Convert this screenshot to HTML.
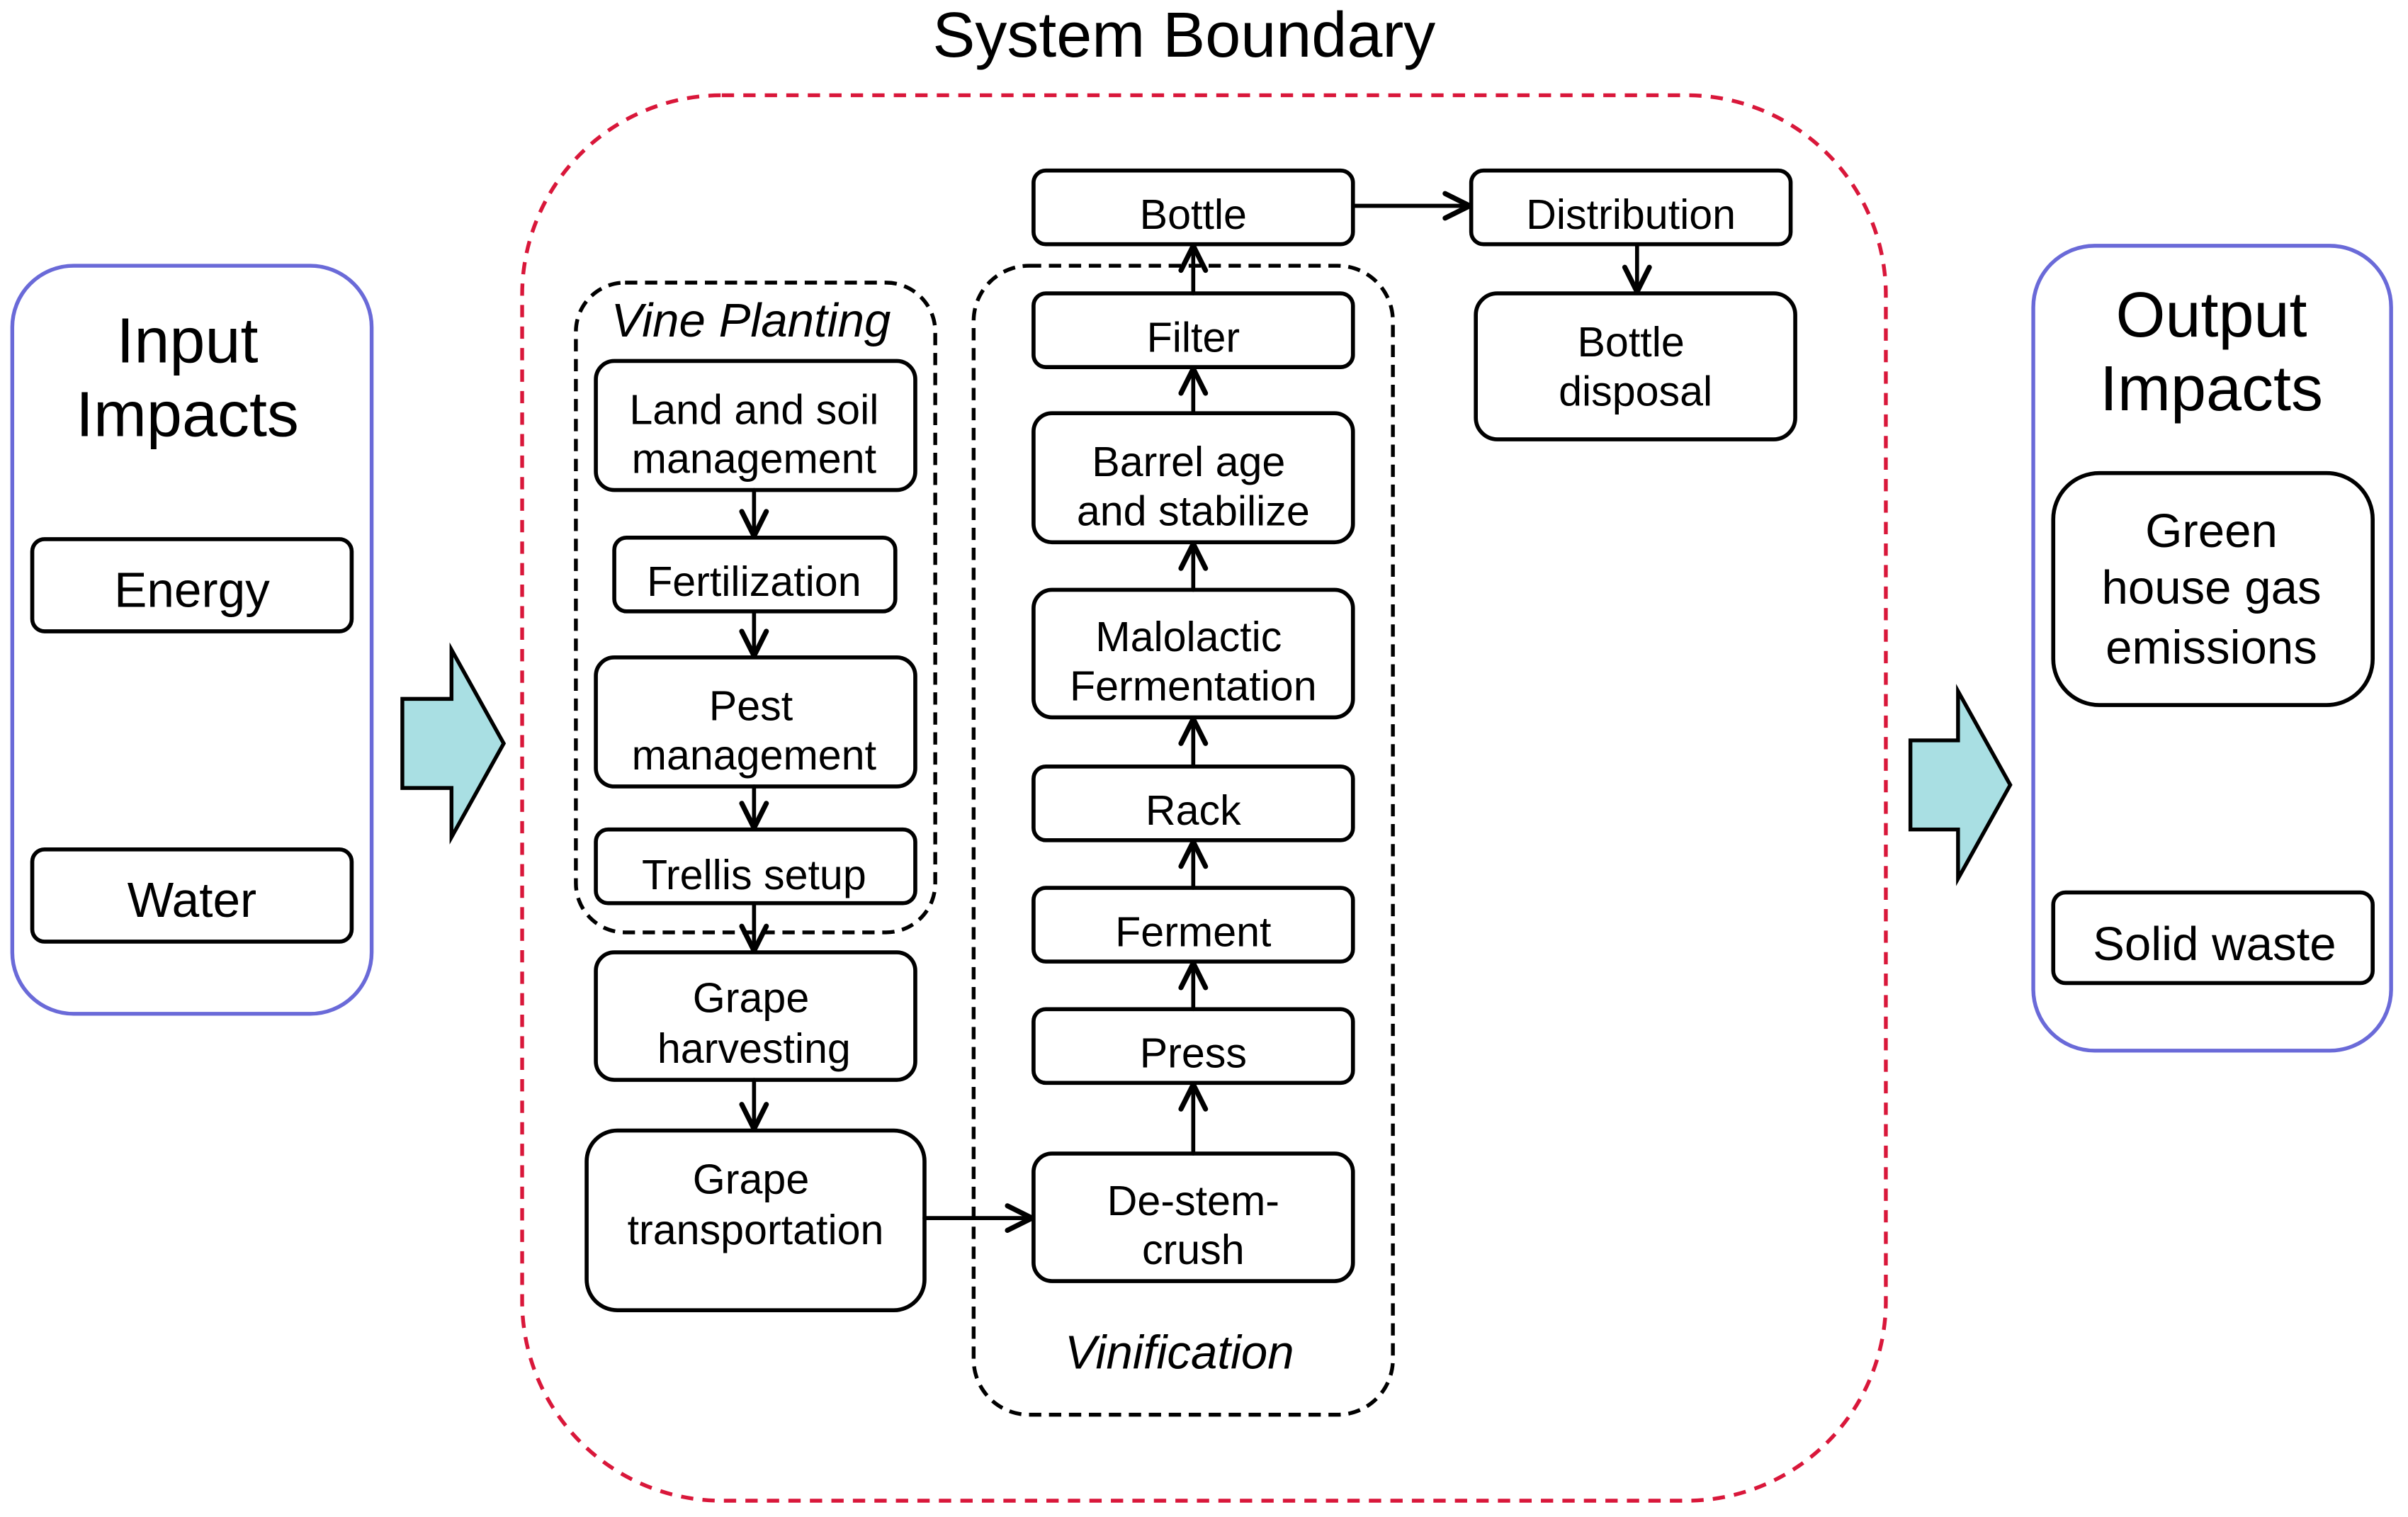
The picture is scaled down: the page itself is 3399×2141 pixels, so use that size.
<!DOCTYPE html>
<html><head><meta charset="utf-8"><style>html,body{margin:0;padding:0;background:#fff}svg{display:block}</style></head>
<body>
<svg width="3399" height="2141" viewBox="0 0 1568 987.6" preserveAspectRatio="none" xmlns="http://www.w3.org/2000/svg" font-family="Liberation Sans, Arial, sans-serif">
<text x="771" y="37" font-size="41.5" text-anchor="middle">System Boundary</text>
<rect x="340" y="62" width="888" height="915" rx="130" fill="none" stroke="#d9173a" stroke-width="2.5" stroke-dasharray="8,6"/>
<rect x="8" y="173" width="234" height="487" rx="40" fill="none" stroke="#6a6ad8" stroke-width="2.5"/>
<text x="122" y="236" font-size="41.5" text-anchor="middle">Input</text>
<text x="122" y="284" font-size="41.5" text-anchor="middle">Impacts</text>
<g fill="none" stroke="#000" stroke-width="2.6">
<rect x="21" y="351" width="208" height="60" rx="8"/>
<rect x="21" y="553" width="208" height="60" rx="8"/>
<rect x="1337" y="308" width="208" height="151" rx="30"/>
<rect x="1337" y="581" width="208" height="59" rx="8"/>
<rect x="388" y="235" width="208" height="84" rx="12"/>
<rect x="400" y="350" width="183" height="48" rx="8"/>
<rect x="388" y="428" width="208" height="84" rx="12"/>
<rect x="388" y="540" width="208" height="48" rx="8"/>
<rect x="388" y="620" width="208" height="83" rx="12"/>
<rect x="382" y="736" width="220" height="117" rx="20"/>
<rect x="673" y="111" width="208" height="48" rx="8"/>
<rect x="673" y="191" width="208" height="48" rx="8"/>
<rect x="673" y="269" width="208" height="84" rx="12"/>
<rect x="673" y="384" width="208" height="83" rx="12"/>
<rect x="673" y="499" width="208" height="48" rx="8"/>
<rect x="673" y="578" width="208" height="48" rx="8"/>
<rect x="673" y="657" width="208" height="48" rx="8"/>
<rect x="673" y="751" width="208" height="83" rx="12"/>
<rect x="958" y="111" width="208" height="48" rx="8"/>
<rect x="961" y="191" width="208" height="95" rx="14"/>
</g>
<g fill="none" stroke="#000" stroke-width="2.5" stroke-dasharray="8,5">
<rect x="375" y="184" width="234" height="423" rx="32"/>
<rect x="634" y="173" width="273" height="748" rx="36"/>
</g>
<rect x="1324" y="160" width="233" height="524" rx="40" fill="none" stroke="#6a6ad8" stroke-width="2.5"/>
<text x="1440" y="219" font-size="41.5" text-anchor="middle">Output</text>
<text x="1440" y="267" font-size="41.5" text-anchor="middle">Impacts</text>
<path d="M262 455 H294 V423 L328 484 L294 545 V513 H262 Z" fill="#a9dfe3" stroke="#000" stroke-width="2.5"/>
<path d="M1244 482 H1275 V450 L1309 511 L1275 572 V540 H1244 Z" fill="#a9dfe3" stroke="#000" stroke-width="2.5"/>
<g fill="none" stroke="#000" stroke-width="2.6" stroke-linecap="round" stroke-linejoin="round">
<path d="M491 319 V349"/><path d="M483 333 L491 349 L499 333" stroke-width="3.3"/>
<path d="M491 398 V427"/><path d="M483 411 L491 427 L499 411" stroke-width="3.3"/>
<path d="M491 512 V539"/><path d="M483 523 L491 539 L499 523" stroke-width="3.3"/>
<path d="M491 588 V619"/><path d="M483 603 L491 619 L499 603" stroke-width="3.3"/>
<path d="M491 703 V735"/><path d="M483 719 L491 735 L499 719" stroke-width="3.3"/>
<path d="M602 793 H672"/><path d="M656 785 L672 793 L656 801" stroke-width="3.3"/>
<path d="M777 751 V706"/><path d="M769 722 L777 706 L785 722" stroke-width="3.3"/>
<path d="M777 657 V627"/><path d="M769 643 L777 627 L785 643" stroke-width="3.3"/>
<path d="M777 578 V548"/><path d="M769 564 L777 548 L785 564" stroke-width="3.3"/>
<path d="M777 499 V468"/><path d="M769 484 L777 468 L785 484" stroke-width="3.3"/>
<path d="M777 384 V354"/><path d="M769 370 L777 354 L785 370" stroke-width="3.3"/>
<path d="M777 269 V240"/><path d="M769 256 L777 240 L785 256" stroke-width="3.3"/>
<path d="M777 191 V160"/><path d="M769 176 L777 160 L785 176" stroke-width="3.3"/>
<path d="M881 134 H957"/><path d="M941 126 L957 134 L941 142" stroke-width="3.3"/>
<path d="M1066 159 V190"/><path d="M1058 174 L1066 190 L1074 174" stroke-width="3.3"/>
</g>
<g font-size="27.3" text-anchor="middle" fill="#000">
<text x="125" y="395" font-size="32">Energy</text>
<text x="125" y="597" font-size="32">Water</text>
<text x="1440" y="356" font-size="31">Green</text>
<text x="1440" y="393" font-size="31">house gas</text>
<text x="1440" y="432" font-size="31">emissions</text>
<text x="1442" y="625" font-size="31">Solid waste</text>
<text x="489" y="219" font-size="31" font-style="italic">Vine Planting</text>
<text x="768" y="891" font-size="31" font-style="italic">Vinification</text>
<text x="491" y="276">Land and soil</text>
<text x="491" y="308">management</text>
<text x="491" y="388">Fertilization</text>
<text x="489" y="469">Pest</text>
<text x="491" y="501">management</text>
<text x="491" y="579">Trellis setup</text>
<text x="489" y="659">Grape</text>
<text x="491" y="692">harvesting</text>
<text x="489" y="777">Grape</text>
<text x="492" y="810">transportation</text>
<text x="777" y="149">Bottle</text>
<text x="777" y="229">Filter</text>
<text x="774" y="310">Barrel age</text>
<text x="777" y="342">and stabilize</text>
<text x="774" y="424">Malolactic</text>
<text x="777" y="456">Fermentation</text>
<text x="777" y="537">Rack</text>
<text x="777" y="616">Ferment</text>
<text x="777" y="695">Press</text>
<text x="777" y="791">De-stem-</text>
<text x="777" y="823">crush</text>
<text x="1062" y="149">Distribution</text>
<text x="1062" y="232">Bottle</text>
<text x="1065" y="264">disposal</text>
</g>
</svg>
</body></html>
